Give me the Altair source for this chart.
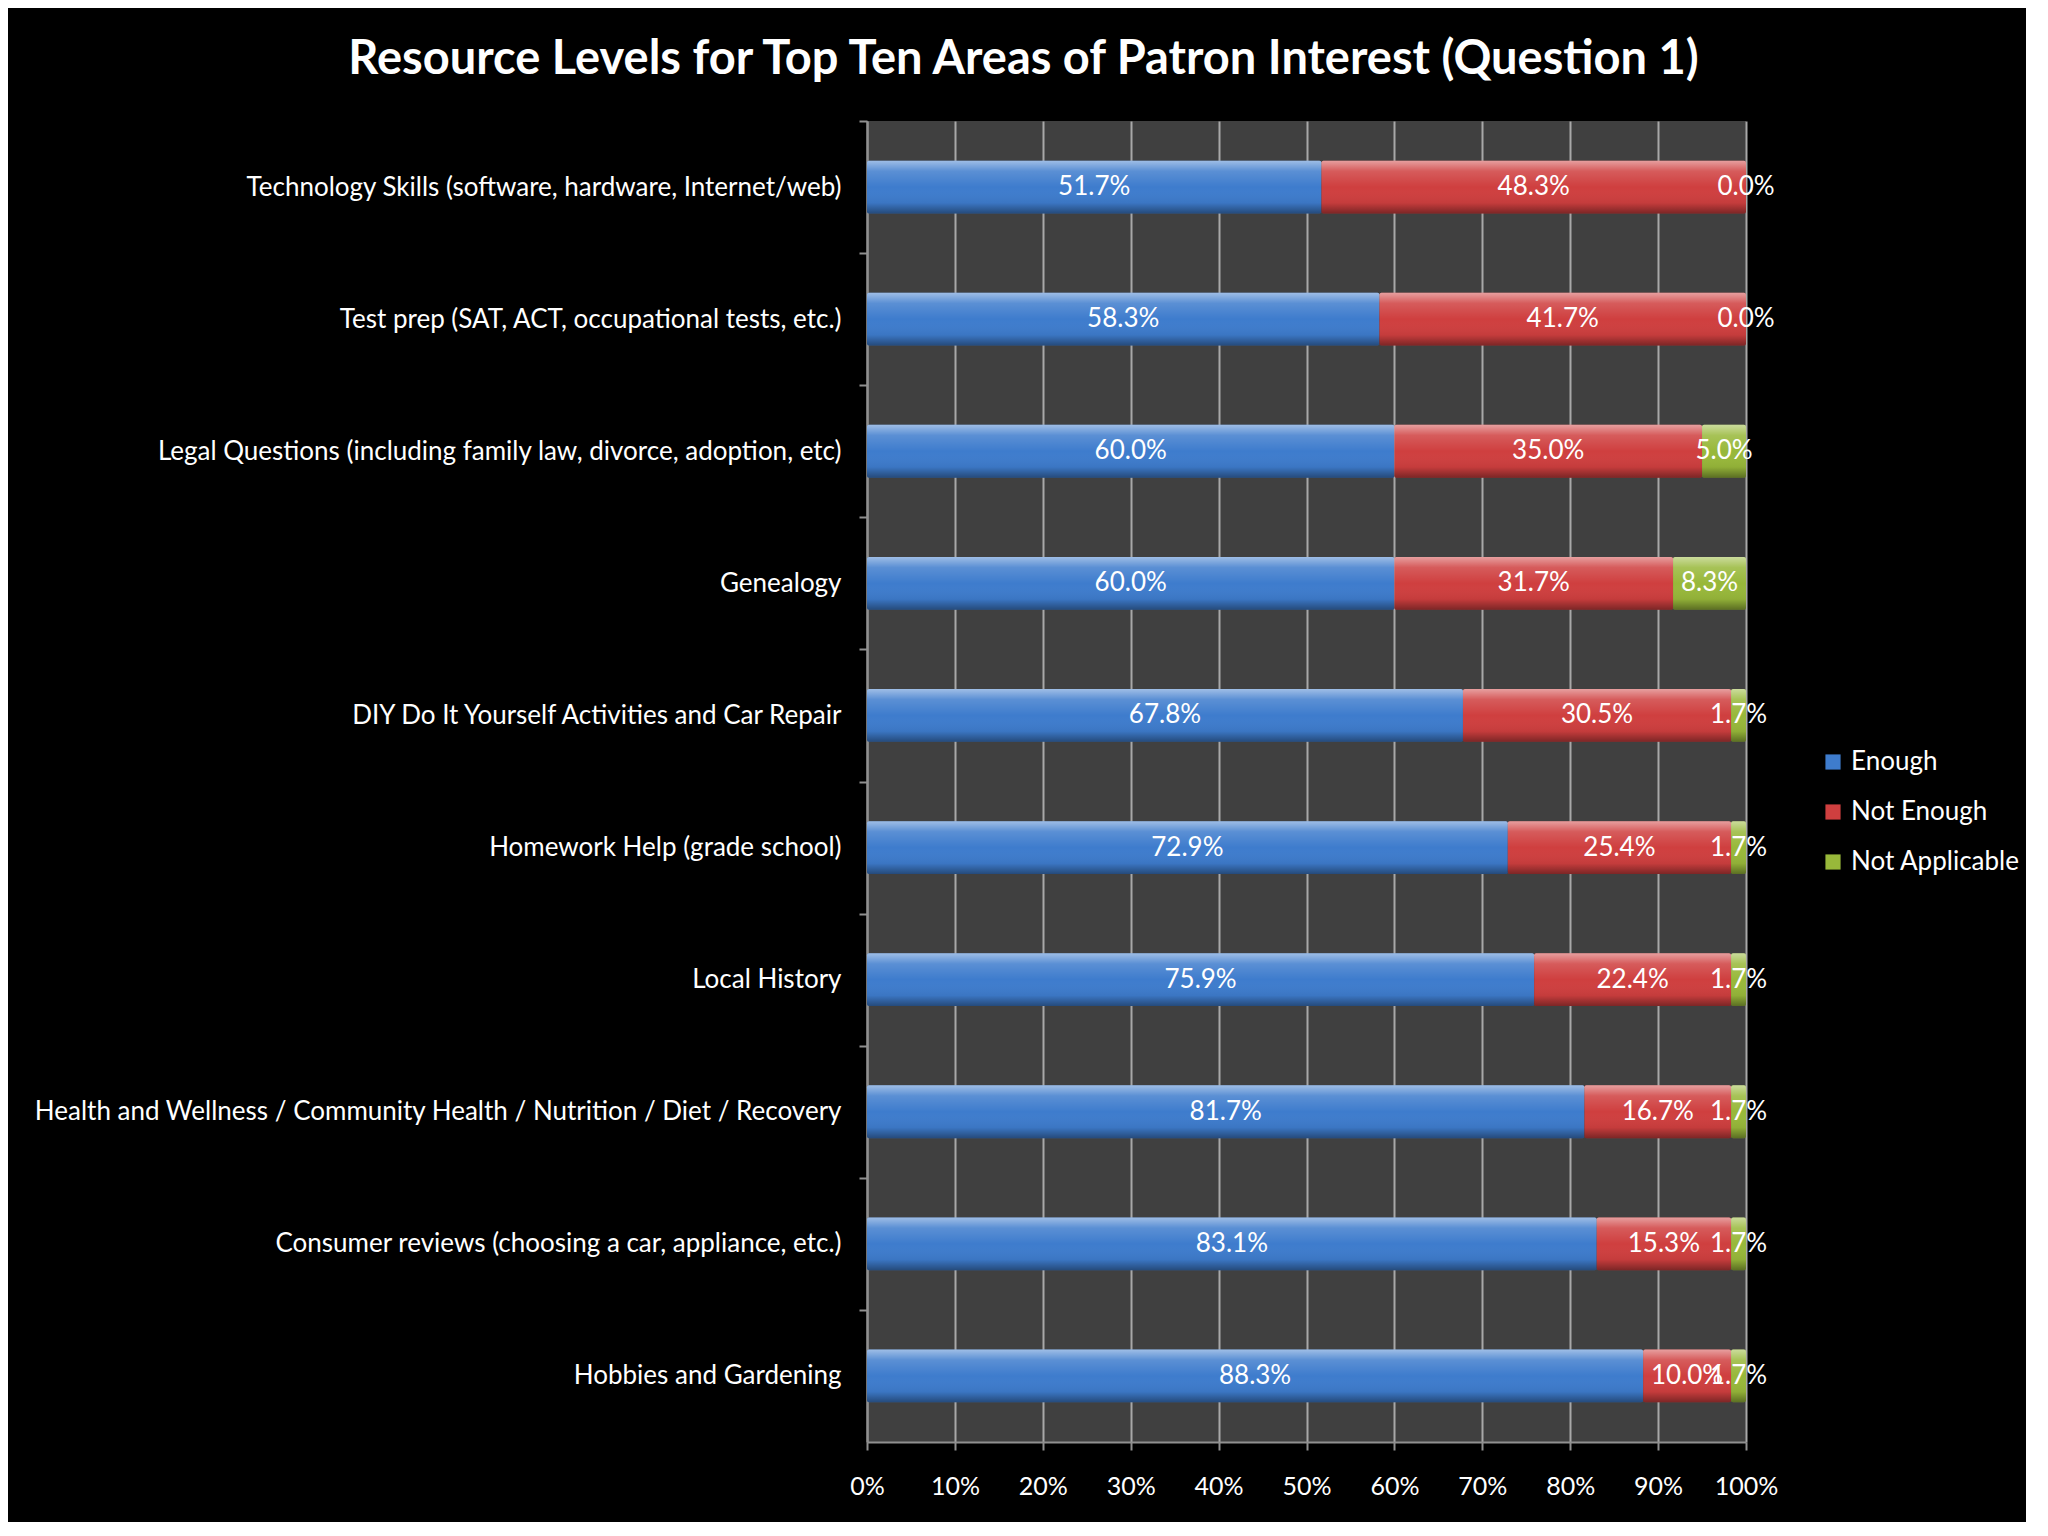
import altair as alt
import pandas as pd

areas = [
    "Technology Skills (software, hardware, Internet/web)",
    "Test prep (SAT, ACT, occupational tests, etc.)",
    "Legal Questions (including family law, divorce, adoption, etc)",
    "Genealogy",
    "DIY Do It Yourself Activities and Car Repair",
    "Homework Help (grade school)",
    "Local History",
    "Health and Wellness / Community Health / Nutrition / Diet / Recovery",
    "Consumer reviews (choosing a car, appliance, etc.)",
    "Hobbies and Gardening",
]
series = ["Enough", "Not Enough", "Not Applicable"]
enough = [51.7, 58.3, 60.0, 60.0, 67.8, 72.9, 75.9, 81.7, 83.1, 88.3]
not_enough = [48.3, 41.7, 35.0, 31.7, 30.5, 25.4, 22.4, 16.7, 15.3, 10.0]
not_applicable = [0.0, 0.0, 5.0, 8.3, 1.7, 1.7, 1.7, 1.7, 1.7, 1.7]
colors = ["#3e7ccd", "#cf3f3f", "#98b83a"]
x_ticks = [0, 0.1, 0.2, 0.3, 0.4, 0.5, 0.6, 0.7, 0.8, 0.9, 1.0]

rows = []
for i, a in enumerate(areas):
    for j, (s, vals) in enumerate(zip(series, [enough, not_enough, not_applicable])):
        rows.append({"area": a, "series": s, "order": j, "value": vals[i]})
df = pd.DataFrame(rows)

FONT = "Lato"

base = (
    alt.Chart(df)
    .transform_joinaggregate(total="sum(value)", groupby=["area"])
    .transform_calculate(pct="datum.value / datum.total")
    .transform_stack(stack="pct", as_=["x0", "x1"], groupby=["area"],
                     sort=[alt.SortField("order", order="ascending")])
    .transform_calculate(mid="(datum.x0 + datum.x1) / 2",
                         lbl="format(datum.value, '.1f') + '%'")
)

y_enc = alt.Y("area:N", sort=areas, title=None,
              scale=alt.Scale(paddingInner=0.6, paddingOuter=0.3),
              axis=alt.Axis(labelColor="white", labelFontSize=26, labelFont=FONT,
                            labelPadding=18, labelOffset=66, tickSize=8,
                            tickColor="#909090", tickWidth=2, tickOffset=-66,
                            domainColor="#909090", domainWidth=2, grid=False,
                            labelLimit=1000))
x_enc = alt.X("x0:Q", title=None,
              scale=alt.Scale(domain=[0, 1], nice=False, zero=True),
              axis=alt.Axis(values=x_ticks, format=".0%", labelColor="white",
                            labelFontSize=25, labelFont=FONT, labelPadding=24,
                            labelFlush=False,
                            tickSize=8, tickColor="#909090", tickWidth=2,
                            domainColor="#909090", domainWidth=2,
                            grid=True, gridColor="#a8a8a8", gridWidth=2))

bars = base.mark_bar(cornerRadius=2).encode(
    y=y_enc,
    x=x_enc,
    x2="x1:Q",
    color=alt.Color("series:N", sort=series,
                    scale=alt.Scale(domain=series, range=colors),
                    legend=alt.Legend(title=None, orient="none", legendX=953,
                                      legendY=628, labelColor="white",
                                      labelFontSize=26, labelFont=FONT,
                                      labelLimit=400,
                                      symbolType="square", symbolSize=230,
                                      symbolStrokeWidth=0, rowPadding=24,
                                      labelOffset=5)),
    order=alt.Order("order:Q"),
)

shine = base.mark_bar(
    cornerRadius=2,
    fill=alt.LinearGradient(
        gradient="linear", x1=0, y1=0, x2=0, y2=1,
        stops=[
            alt.GradientStop(color="rgba(255,255,255,0.5)", offset=0),
            alt.GradientStop(color="rgba(255,255,255,0.15)", offset=0.2),
            alt.GradientStop(color="rgba(255,255,255,0.0)", offset=0.5),
            alt.GradientStop(color="rgba(0,0,0,0.05)", offset=0.8),
            alt.GradientStop(color="rgba(0,0,0,0.4)", offset=1),
        ],
    ),
).encode(y=alt.Y("area:N", sort=areas), x="x0:Q", x2="x1:Q")

labels = base.mark_text(color="white", fontSize=26, font=FONT).encode(
    y=alt.Y("area:N", sort=areas),
    x="mid:Q",
    text="lbl:N",
)

chart = (
    alt.layer(bars, shine, labels)
    .properties(
        width=879,
        height=1321,
        background="black",
        padding={"left": 859, "top": 113, "right": 280, "bottom": 80},
        autosize=alt.AutoSizeParams(type="none"),
        title=alt.TitleParams(
            "Resource Levels for Top Ten Areas of Patron Interest (Question 1)",
            color="white", fontSize=47, font=FONT, fontWeight="bold",
            anchor="middle", dx=-283, offset=36,
        ),
    )
    .configure_view(fill="#404040", stroke=None)
)

chart.save("out.html", embed_options={"renderer": "svg", "actions": False})
